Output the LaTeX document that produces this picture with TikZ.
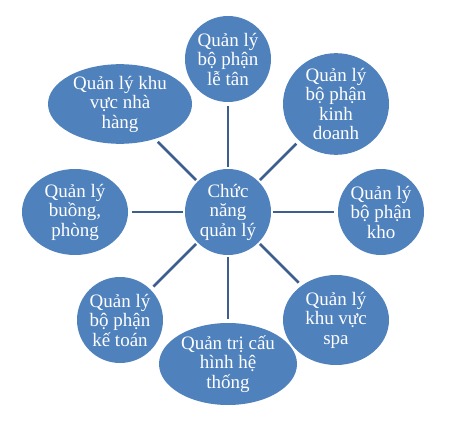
\documentclass[tikz,border=0pt]{standalone}
\usepackage{fontspec}
\setmainfont{Liberation Serif}
\usetikzlibrary{shapes.geometric}
\definecolor{bubble}{HTML}{4F81BD}
\definecolor{spoke}{HTML}{3D5E8E}
\begin{document}
\begin{tikzpicture}[x=1pt,y=1pt,
  bub/.style={ellipse, fill=bubble, draw=none, inner sep=0pt, text=white, align=center,
    font=\fontsize{19}{19.5}\selectfont},
  link/.style={draw=spoke, line width=2.6pt, shorten <=2pt, shorten >=4pt}]
\useasboundingbox (0,0) rectangle (452,424);
\node[bub, minimum width=86, minimum height=86] (c) at (228,212) {Chức\\năng\\quản lý};
\node[bub, minimum width=86, minimum height=86] (le) at (228,365) {Quản lý\\bộ phận\\lễ tân};
\node[bub, minimum width=144, minimum height=72] (nh) at (120,320) {Quản lý khu\\vực nhà\\hàng};
\node[bub, minimum width=106, minimum height=96] (kd) at (336,320) {Quản lý\\bộ phận\\kinh\\doanh};
\node[bub, minimum width=106, minimum height=86] (bp) at (75,212) {Quản lý\\buồng,\\phòng};
\node[bub, minimum width=86, minimum height=86] (kh) at (381,212) {Quản lý\\bộ phận\\kho};
\node[bub, minimum width=86, minimum height=86] (kt) at (120,104) {Quản lý\\bộ phận\\kế toán};
\node[bub, minimum width=138, minimum height=82] (qt) at (228,60) {Quản trị cấu\\hình hệ\\thống};
\node[bub, minimum width=106, minimum height=90] (sp) at (336,104) {Quản lý\\khu vực\\spa};
\foreach \n in {le,nh,kd,bp,kh,kt,qt,sp} \draw[link] (c) -- (\n);
\end{tikzpicture}
\end{document}
